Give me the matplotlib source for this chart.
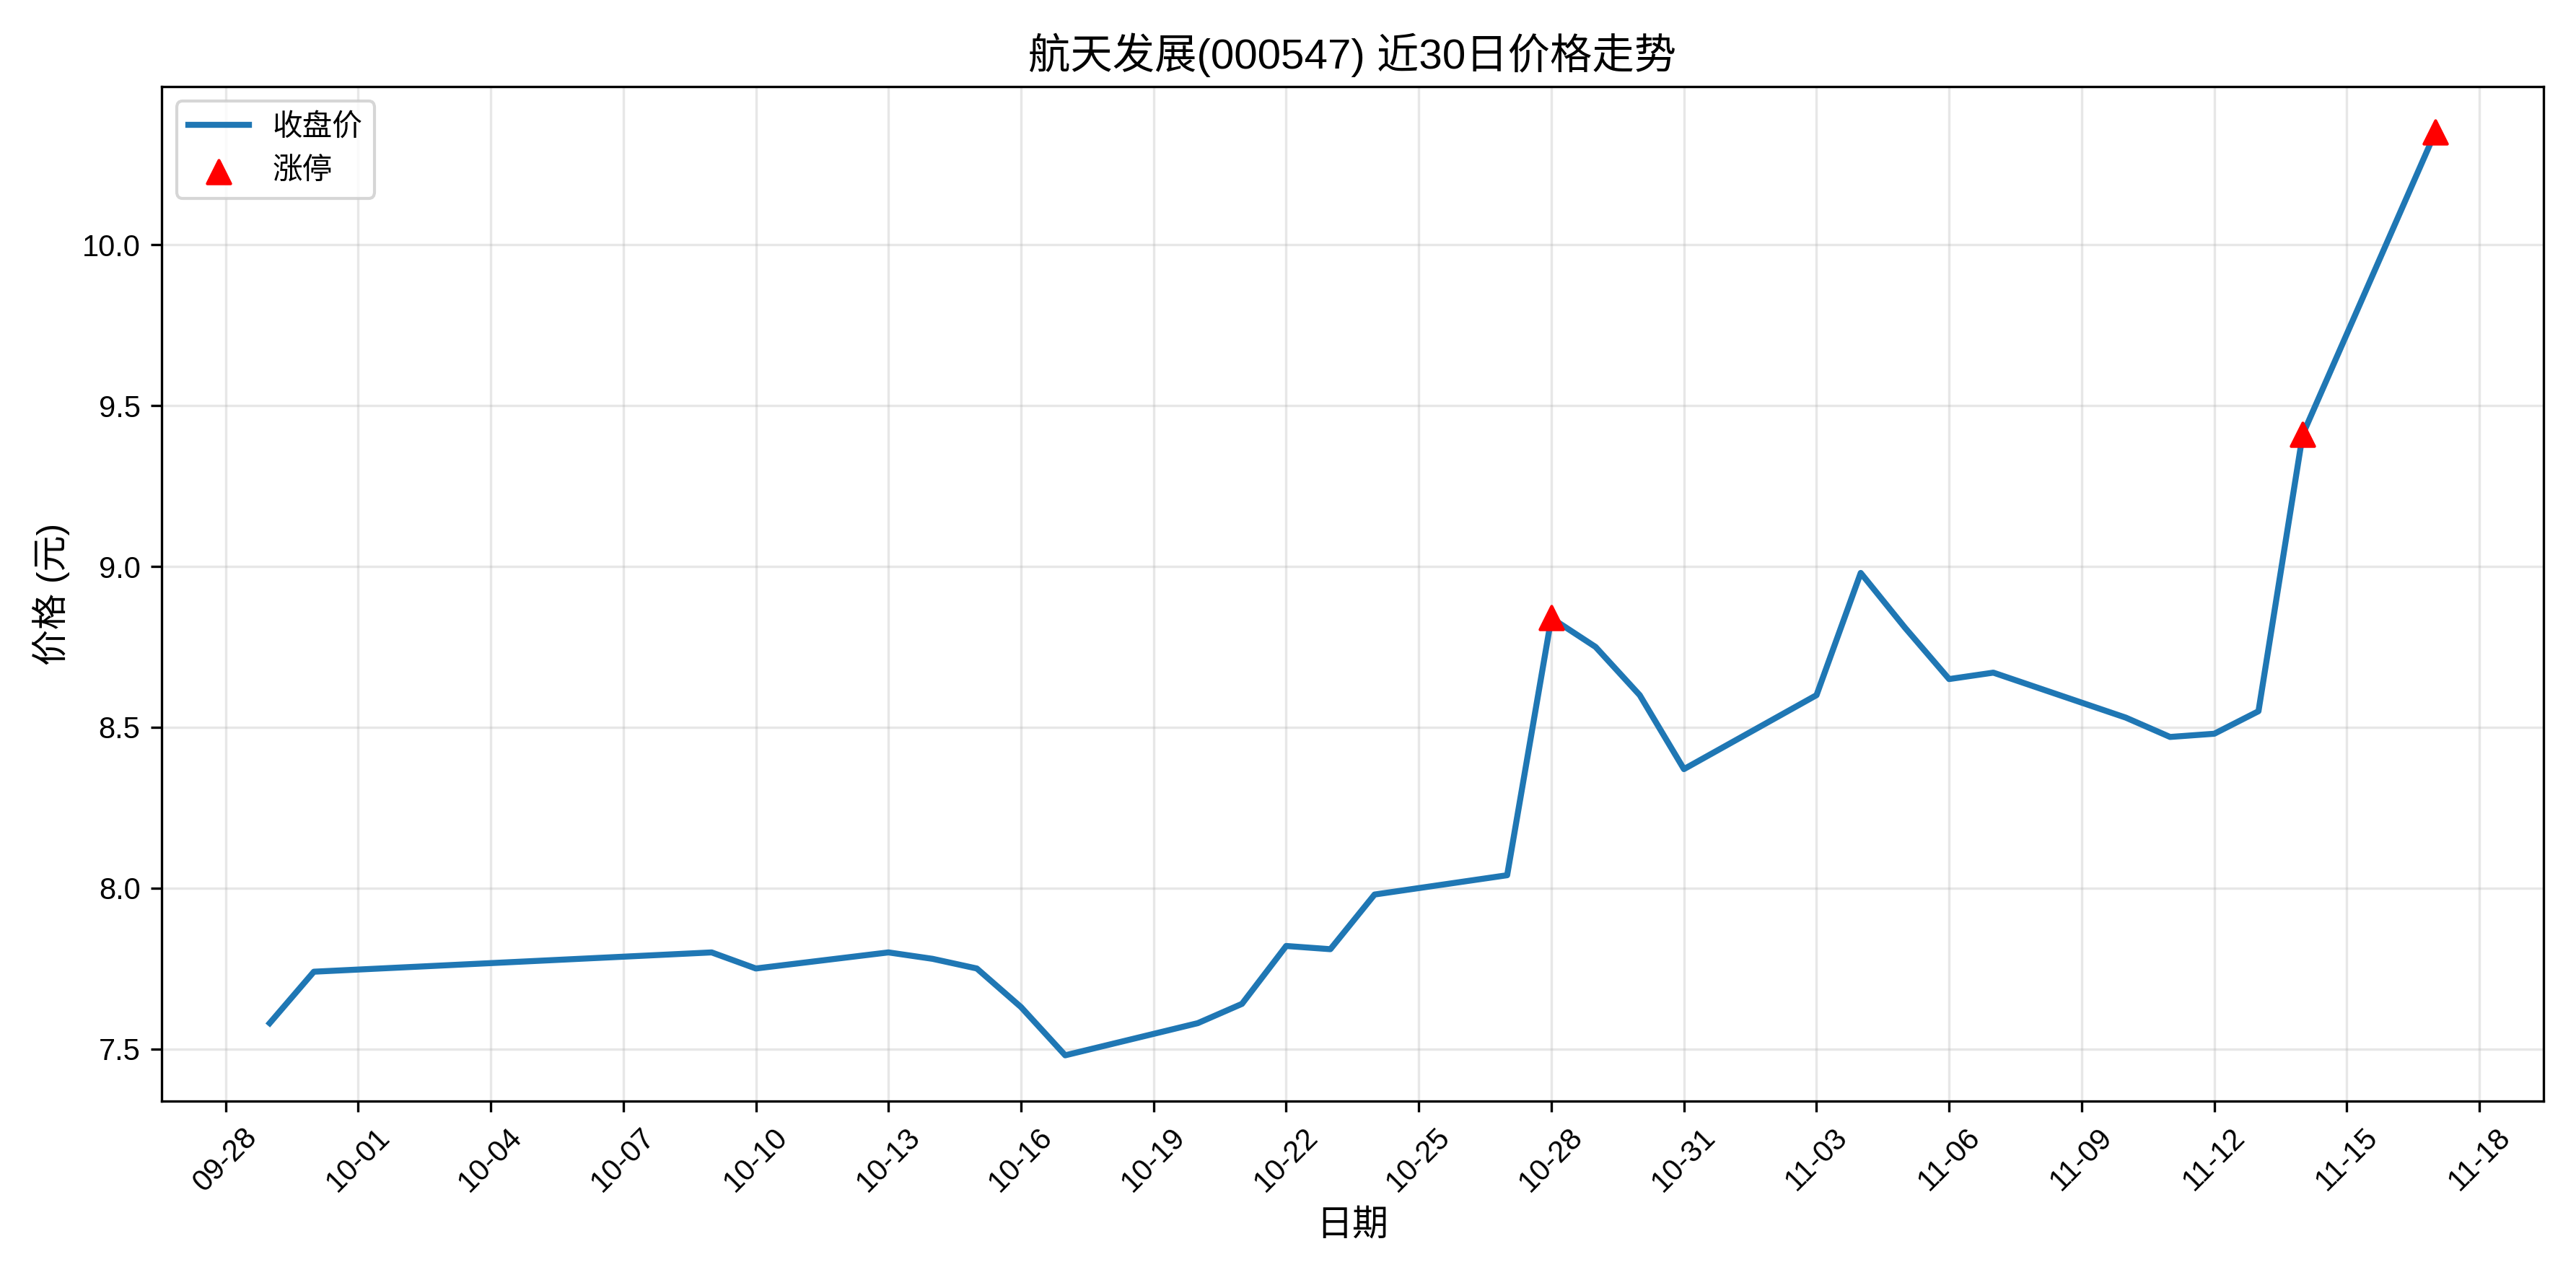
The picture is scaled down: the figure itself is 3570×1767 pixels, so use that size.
import matplotlib
matplotlib.use("Agg")
import matplotlib.pyplot as plt
import matplotlib.dates as mdates
import pandas as pd

plt.rcParams['font.family'] = ['Liberation Sans', 'Noto Sans CJK SC', 'DejaVu Sans']
plt.rcParams['axes.unicode_minus'] = False

dates = ["2025-09-29","2025-09-30","2025-10-09","2025-10-10","2025-10-13","2025-10-14","2025-10-15",
         "2025-10-16","2025-10-17","2025-10-20","2025-10-21","2025-10-22","2025-10-23","2025-10-24",
         "2025-10-27","2025-10-28","2025-10-29","2025-10-30","2025-10-31","2025-11-03","2025-11-04",
         "2025-11-05","2025-11-06","2025-11-07","2025-11-10","2025-11-11","2025-11-12","2025-11-13",
         "2025-11-14","2025-11-17"]
close = [7.58,7.74,7.80,7.75,7.80,7.78,7.75,7.63,7.48,7.58,7.64,7.82,7.81,7.98,8.04,8.84,8.75,8.60,
         8.37,8.60,8.98,8.81,8.65,8.67,8.53,8.47,8.48,8.55,9.41,10.35]
limit_dates = ["2025-10-28","2025-11-14","2025-11-17"]
limit_prices = [8.84,9.41,10.35]

d = pd.to_datetime(dates)
ld = pd.to_datetime(limit_dates)

fig, ax = plt.subplots(figsize=(11.9, 5.89), dpi=300)
ax.plot(d, close, color='#1f77b4', linewidth=2, label='收盘价')
ax.scatter(ld, limit_prices, color='red', marker='^', s=60, zorder=5, label='涨停')
ax.set_title('航天发展(000547) 近30日价格走势', fontsize=14)
ax.set_xlabel('日期', fontsize=12)
ax.set_ylabel('价格 (元)', fontsize=12)
ax.xaxis.set_major_locator(mdates.DayLocator(interval=3))
ax.xaxis.set_major_formatter(mdates.DateFormatter('%m-%d'))
plt.setp(ax.get_xticklabels(), rotation=45)
ax.grid(True, alpha=0.3)
ax.legend(loc='upper left')
fig.tight_layout()
fig.savefig('out.png', dpi=300)
